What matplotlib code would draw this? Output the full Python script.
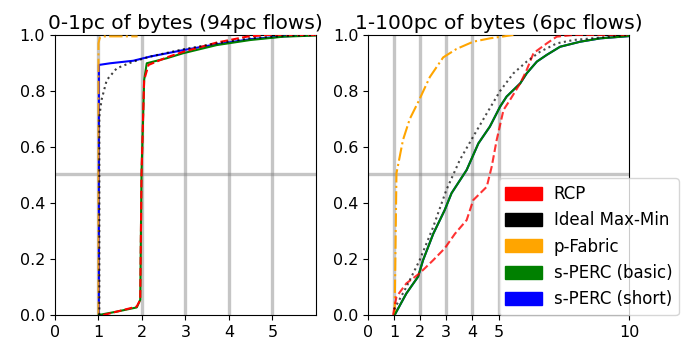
import matplotlib
import matplotlib.pyplot as plt
from matplotlib.patches import Patch

matplotlib.use("Agg")

# --- left panel: 0-1pc of bytes (94pc flows) ---
L_RCP_X = [1.11, 1.42, 1.88, 1.96, 1.99, 2.05, 2.15, 2.57, 2.95, 3.72, 4.41, 4.87, 6.0]
L_RCP_Y = [0.0, 0.012, 0.03, 0.054, 0.506, 0.839, 0.893, 0.92, 0.94, 0.973, 0.994, 1.0, 1.0]
L_IDEAL_X = [1.02, 1.02, 1.07, 1.19, 1.42, 1.8, 2.19, 2.95, 3.72, 4.49, 5.25, 5.98]
L_IDEAL_Y = [0.0, 0.708, 0.768, 0.839, 0.881, 0.905, 0.923, 0.949, 0.97, 0.988, 0.996, 1.0]
L_PFAB_X = [1.0, 1.0, 1.03, 1.1, 1.9]
L_PFAB_Y = [0.0, 0.97, 0.99, 0.995, 0.995]
L_BASIC_X = [1.01, 1.42, 1.88, 1.96, 1.99, 2.05, 2.11, 2.57, 2.95, 3.72, 4.49, 5.25, 5.98]
L_BASIC_Y = [0.0, 0.012, 0.027, 0.054, 0.506, 0.839, 0.899, 0.917, 0.935, 0.964, 0.982, 0.994, 0.998]
L_SHORT_X = [1.01, 1.01, 1.27, 1.8, 2.19, 2.95, 3.72, 4.49, 5.25, 5.98]
L_SHORT_Y = [0.0, 0.893, 0.899, 0.908, 0.923, 0.946, 0.967, 0.985, 0.995, 1.0]

# --- right panel: 1-100pc of bytes (6pc flows) ---
R_RCP_X = [0.96, 1.09, 1.47, 1.98, 2.5, 2.94, 3.33, 3.78, 4.03, 4.55, 4.74, 4.93, 5.19,
           5.44, 5.83, 6.08, 6.34, 6.85, 7.23, 7.87, 10.0]
R_RCP_Y = [0.0, 0.065, 0.113, 0.149, 0.196, 0.238, 0.29, 0.339, 0.41, 0.458, 0.53, 0.625,
           0.732, 0.768, 0.827, 0.875, 0.935, 0.97, 0.994, 1.0, 1.0]
R_IDEAL_X = [1.0, 1.47, 1.98, 2.5, 3.0, 3.52, 4.03, 4.55, 5.06, 5.57, 6.08, 6.59, 7.23, 7.87, 10.0]
R_IDEAL_Y = [0.02, 0.10, 0.196, 0.315, 0.446, 0.554, 0.637, 0.72, 0.80, 0.863, 0.905, 0.94,
             0.97, 0.982, 1.0]
R_PFAB_X = [1.02, 1.09, 1.34, 1.6, 1.92, 2.37, 2.88, 3.39, 4.03, 4.67, 5.57]
R_PFAB_Y = [0.0, 0.506, 0.625, 0.70, 0.76, 0.85, 0.92, 0.95, 0.976, 0.988, 1.0]
R_BASIC_X = [1.02, 1.47, 1.92, 2.11, 2.5, 2.94, 3.2, 3.78, 4.23, 4.67, 5.06, 5.31, 5.83,
             6.08, 6.47, 6.85, 7.36, 8.13, 8.9, 10.0]
R_BASIC_Y = [0.0, 0.077, 0.137, 0.196, 0.29, 0.375, 0.435, 0.518, 0.613, 0.673, 0.744, 0.78,
             0.827, 0.863, 0.905, 0.929, 0.958, 0.976, 0.988, 0.996]
R_SHORT_X = R_BASIC_X
R_SHORT_Y = R_BASIC_Y

LEGEND_LABELS = ["RCP", "Ideal Max-Min", "p-Fabric", "s-PERC (basic)", "s-PERC (short)"]
COLORS = ["red", "black", "orange", "green", "blue"]

plt.rcParams.update({"xtick.labelsize": 11.5, "ytick.labelsize": 11.5})

fig = plt.figure(figsize=(6.82, 3.45), dpi=100)
ax1 = fig.add_axes([0.0806, 0.087, 0.3827, 0.8116])
ax2 = fig.add_axes([0.5396, 0.087, 0.3827, 0.8116])


def guides(ax):
    for v in range(1, 6):
        ax.axvline(v, color="grey", alpha=0.45, linewidth=2.4, zorder=1)
    ax.axhline(0.505, color="grey", alpha=0.45, linewidth=2.4, zorder=1)


guides(ax1)
ax1.plot(L_SHORT_X, L_SHORT_Y, color="blue", zorder=3)
ax1.plot(L_PFAB_X, L_PFAB_Y, color="orange", linestyle="-.", alpha=0.9, zorder=3)
ax1.plot(L_BASIC_X, L_BASIC_Y, color="green", zorder=3)
ax1.plot(L_RCP_X, L_RCP_Y, color="red", linestyle="--", zorder=4)
ax1.plot(L_IDEAL_X, L_IDEAL_Y, color="black", linestyle=":", alpha=0.75, zorder=4)
ax1.set_xlim(0, 6)
ax1.set_ylim(0, 1)
ax1.set_xticks(range(0, 6))
ax1.set_title("0-1pc of bytes (94pc flows)", fontsize=14.5, pad=4)

guides(ax2)
ax2.plot(R_PFAB_X, R_PFAB_Y, color="orange", linestyle="-.", zorder=3)
ax2.plot(R_SHORT_X, R_SHORT_Y, color="blue", zorder=2)
ax2.plot(R_BASIC_X, R_BASIC_Y, color="green", zorder=3)
ax2.plot(R_RCP_X, R_RCP_Y, color="red", linestyle="--", alpha=0.8, zorder=4)
ax2.plot(R_IDEAL_X, R_IDEAL_Y, color="black", linestyle=":", alpha=0.7, zorder=4)
ax2.set_xlim(0, 10)
ax2.set_ylim(0, 1)
ax2.set_xticks([0, 1, 2, 3, 4, 5, 10])
ax2.set_title("1-100pc of bytes (6pc flows)", fontsize=14.5, pad=4)

handles = [Patch(color=c, label=l) for c, l in zip(COLORS, LEGEND_LABELS)]
ax2.legend(handles=handles, loc="lower left", bbox_to_anchor=(0.5, 0.0),
           borderaxespad=0, fontsize=12, handlelength=2.2, handleheight=0.8,
           handletextpad=0.7)

fig.savefig("out.png", dpi=100)
